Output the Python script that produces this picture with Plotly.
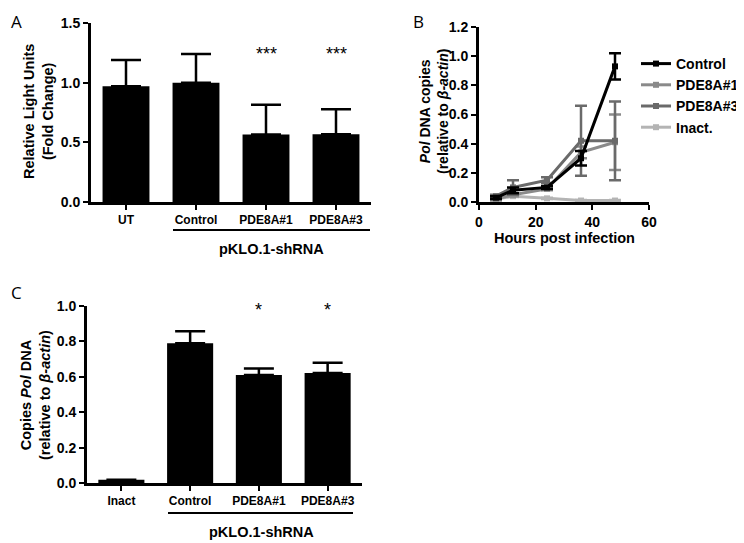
import plotly.graph_objects as go

# The page body keeps the browser's default 8px margin, so the figure is
# sized to fit the window after that offset and positions are given in
# window pixels, converted below.
WIN_W, WIN_H = 744, 543
OFF = 8
W, H = WIN_W - OFF, WIN_H - OFF

# Panel A data
a_categories = ["UT", "Control", "PDE8A#1", "PDE8A#3"]
a_values = [0.97, 1.00, 0.565, 0.567]
a_errors = [0.22, 0.24, 0.25, 0.21]
a_stars = ["", "", "***", "***"]

# Panel B data
b_hours = [6, 12, 24, 36, 48]
b_series = ["Control", "PDE8A#1", "PDE8A#3", "Inact."]
b_control = [0.03, 0.08, 0.10, 0.30, 0.93]
b_control_err = [0.01, 0.02, 0.01, 0.05, 0.09]
b_pde1 = [0.02, 0.05, 0.09, 0.34, 0.41]
b_pde1_err = [0.01, 0.01, 0.01, 0.04, 0.19]
b_pde3 = [0.04, 0.10, 0.15, 0.42, 0.42]
b_pde3_err = [0.01, 0.05, 0.02, 0.24, 0.27]
b_inact = [0.02, 0.04, 0.025, 0.01, 0.01]
b_inact_err = [0.005, 0.005, 0.005, 0.003, 0.003]
b_colors = ["#000000", "#8a8a8a", "#6a6a6a", "#b4b4b4"]

# Panel C data
c_categories = ["Inact", "Control", "PDE8A#1", "PDE8A#3"]
c_values = [0.018, 0.79, 0.61, 0.622]
c_errors = [0.0, 0.068, 0.037, 0.058]
c_stars = ["", "", "*", "*"]

FONT = "Liberation Sans, Arial, Helvetica, sans-serif"


def px(x):
    return (x - OFF) / W


def py(y):
    return 1 - (y - OFF) / H


fig = go.Figure()

# Panel A bars
fig.add_trace(go.Bar(
    x=a_categories, y=a_values, marker=dict(color="black", line=dict(width=0)),
    width=0.67,
    error_y=dict(type="data", symmetric=False, array=a_errors, arrayminus=[0]*4,
                 color="black", thickness=2.5, width=15),
    xaxis="x", yaxis="y", showlegend=False,
))

# Panel B lines
b_data = [(b_control, b_control_err), (b_pde1, b_pde1_err), (b_pde3, b_pde3_err), (b_inact, b_inact_err)]
order = [3, 1, 2, 0]  # draw control on top
traces = {}
for i, name in enumerate(b_series):
    vals, errs = b_data[i]
    traces[i] = go.Scatter(
        x=b_hours, y=vals, name=name, mode="lines+markers",
        line=dict(color=b_colors[i], width=3),
        marker=dict(symbol="square", size=6, color=b_colors[i]),
        error_y=dict(type="data", array=errs, color=b_colors[i], thickness=2.5, width=6),
        xaxis="x2", yaxis="y2", legendrank=i + 1,
    )
for i in order:
    fig.add_trace(traces[i])

# Panel C bars
fig.add_trace(go.Bar(
    x=c_categories, y=c_values, marker=dict(color="black", line=dict(width=0)),
    width=0.67,
    error_y=dict(type="data", symmetric=False, array=c_errors, arrayminus=[0]*4,
                 color="black", thickness=2.5, width=15),
    xaxis="x3", yaxis="y3", showlegend=False,
))

axis_common = dict(
    showline=True, linecolor="black", linewidth=3, ticks="outside",
    tickwidth=2, ticklen=5, tickcolor="black", showgrid=False, zeroline=False,
    automargin=False,
    tickfont=dict(family=FONT, size=14, color="black", weight="bold"),
)
cat_common = dict(axis_common)
cat_common["tickfont"] = dict(family=FONT, size=12, color="black", weight="bold")

fig.update_layout(
    width=W, height=H, margin=dict(l=0, r=0, t=0, b=0, autoexpand=False),
    paper_bgcolor="white", plot_bgcolor="white",
    font=dict(family=FONT, color="black"),
    xaxis=dict(domain=[px(91), px(371)], range=[-0.5, 3.5], anchor="y", **cat_common),
    yaxis=dict(domain=[py(202), py(23)], range=[0, 1.5], anchor="x",
               tickvals=[0, 0.5, 1.0, 1.5], ticktext=["0.0", "0.5", "1.0", "1.5"], **axis_common),
    xaxis2=dict(domain=[px(479), px(649)], range=[0, 60], anchor="y2",
                tickvals=[0, 20, 40, 60], **axis_common),
    yaxis2=dict(domain=[py(202), py(27)], range=[0, 1.2], anchor="x2",
                tickvals=[0, 0.2, 0.4, 0.6, 0.8, 1.0, 1.2], tickformat=".1f", **axis_common),
    xaxis3=dict(domain=[px(87), px(362)], range=[-0.5, 3.5], anchor="y3", **cat_common),
    yaxis3=dict(domain=[py(483), py(306)], range=[0, 1.0], anchor="x3",
                tickvals=[0, 0.2, 0.4, 0.6, 0.8, 1.0], tickformat=".1f", **axis_common),
    legend=dict(x=px(636), y=py(48), xanchor="left", yanchor="top",
                font=dict(family=FONT, size=14, color="black", weight="bold"),
                bgcolor="rgba(0,0,0,0)", tracegroupgap=0, itemwidth=30),
    bargap=0.3,
)

ann = []
# panel letters
for letter, x, y in [("A", 9, 8), ("B", 411, 8), ("C", 9, 279)]:
    ann.append(dict(text=letter, x=px(x), y=py(y), xref="paper", yref="paper",
                    showarrow=False, font=dict(family="Open Sans, sans-serif", size=17, color="black"),
                    xanchor="left", yanchor="top"))
# y titles
ann.append(dict(text="<b>Relative Light Units<br>(Fold Change)</b>", x=px(38), y=py(112),
                xref="paper", yref="paper", showarrow=False, textangle=-90,
                font=dict(family=FONT, size=14.5, color="black"), xanchor="center", yanchor="middle"))
ann.append(dict(text="<b><i>Pol</i> DNA copies<br>(relative to <i>β-actin</i>)</b>", x=px(434), y=py(112),
                xref="paper", yref="paper", showarrow=False, textangle=-90,
                font=dict(family=FONT, size=14, color="black"), xanchor="center", yanchor="middle"))
ann.append(dict(text="<b>Copies <i>Pol</i> DNA<br>(relative to <i>β-actin</i>)</b>", x=px(35), y=py(395),
                xref="paper", yref="paper", showarrow=False, textangle=-90,
                font=dict(family=FONT, size=14.5, color="black"), xanchor="center", yanchor="middle"))
# x title B
ann.append(dict(text="<b>Hours post infection</b>", x=px(564), y=py(238), xref="paper", yref="paper",
                showarrow=False, font=dict(family=FONT, size=14.5, color="black"),
                xanchor="center", yanchor="middle"))
# group labels
ann.append(dict(text="<b>pKLO.1-shRNA</b>", x=px(271), y=py(249), xref="paper", yref="paper",
                showarrow=False, font=dict(family=FONT, size=14.5, color="black"),
                xanchor="center", yanchor="middle"))
ann.append(dict(text="<b>pKLO.1-shRNA</b>", x=px(262), y=py(532), xref="paper", yref="paper",
                showarrow=False, font=dict(family=FONT, size=14.5, color="black"),
                xanchor="center", yanchor="middle"))
# stars
for cat, s in zip(a_categories, a_stars):
    if s:
        ann.append(dict(text=s, x=cat, y=1.24, xref="x", yref="y", showarrow=False,
                        font=dict(family=FONT, size=18, color="black"), yanchor="middle"))
for cat, s in zip(c_categories, c_stars):
    if s:
        ann.append(dict(text=s, x=cat, y=0.975, xref="x3", yref="y3", showarrow=False,
                        font=dict(family=FONT, size=18, color="black"), yanchor="middle"))
fig.update_layout(annotations=ann)

fig.update_layout(shapes=[
    dict(type="line", xref="paper", yref="paper", x0=px(173), x1=px(370), y0=py(230), y1=py(230),
         line=dict(color="black", width=2)),
    dict(type="line", xref="paper", yref="paper", x0=px(168), x1=px(353), y0=py(513), y1=py(513),
         line=dict(color="black", width=2)),
])

fig.write_html("out.html")
